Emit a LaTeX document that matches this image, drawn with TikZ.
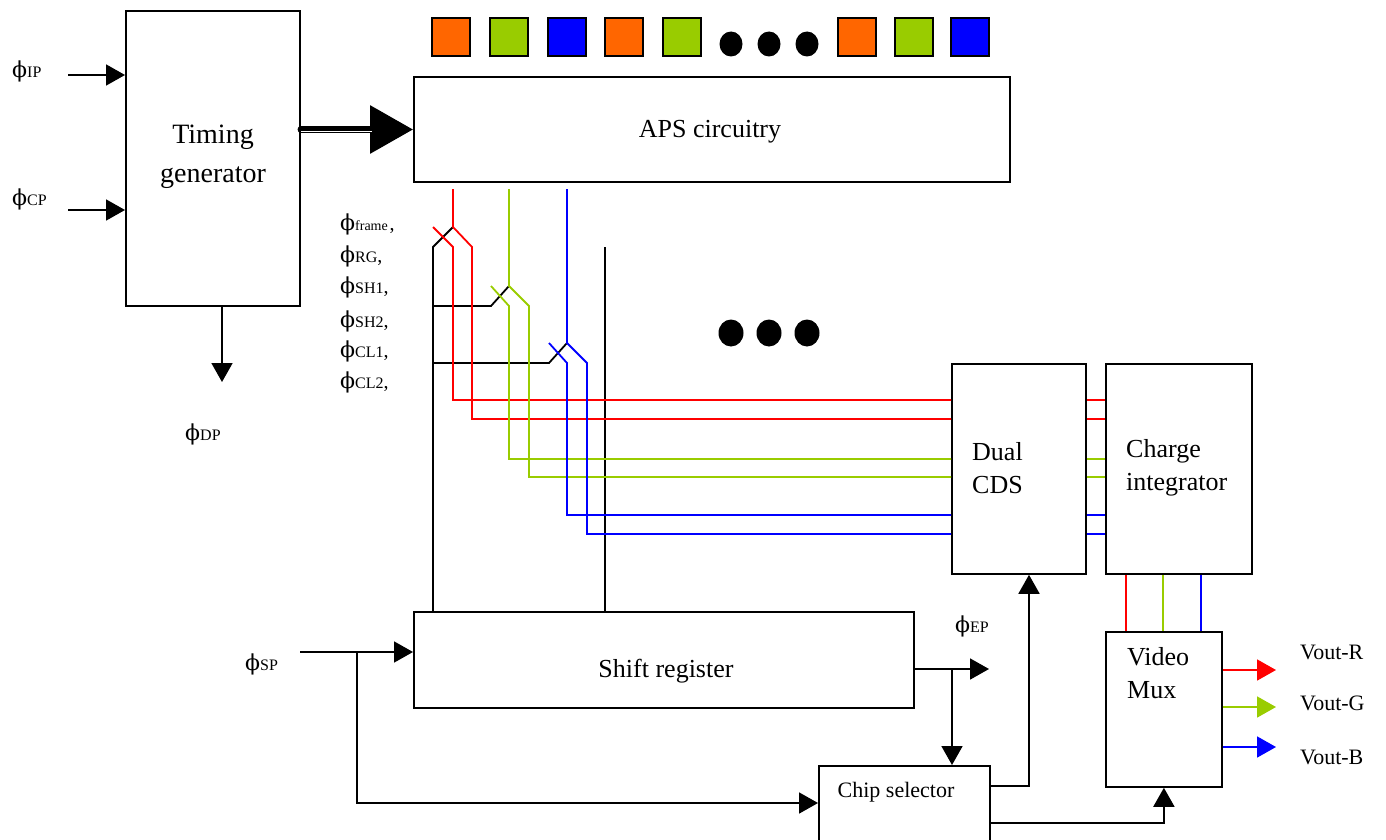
\documentclass[tikz,border=0pt]{standalone}
\usepackage{fontspec}
\setmainfont{Liberation Serif}
\newfontfamily\phfont{DejaVu Serif}
\usetikzlibrary{arrows.meta}
\definecolor{cred}{RGB}{255,0,0}
\definecolor{cgreen}{RGB}{153,204,0}
\definecolor{cblue}{RGB}{0,0,255}
\definecolor{corange}{RGB}{255,102,0}
% phase label: phi with a smaller suffix
\newcommand{\phl}[2][16]{{\phfont\fontsize{22}{22}\selectfont ϕ}{\fontsize{#1}{#1}\selectfont #2}}

\begin{document}
\begin{tikzpicture}[x=1pt,y=-1pt,
  box/.style={draw, line width=1.8pt, inner sep=0pt, anchor=north west},
  wire/.style={line width=1.8pt},
  arr/.style={-{Triangle[length=19pt,width=21pt]}},
  lbl/.style={font=\fontsize{26}{33}\selectfont, inner sep=0pt},
  sml/.style={font=\fontsize{22}{26}\selectfont, inner sep=0pt},
  ph/.style={inner sep=0pt, anchor=base west},
  sq/.style={draw, line width=1.4pt}]
\useasboundingbox (0,0) rectangle (1386,840);

% ---- blocks ----
\node[box, minimum width=174pt, minimum height=295pt] (tg)  at (125,10)  {};
\node[box, minimum width=596pt, minimum height=105pt] (aps) at (413,76)  {};
\node[box, minimum width=134pt, minimum height=210pt] (cds) at (951,363) {};
\node[box, minimum width=146pt, minimum height=210pt] (ci)  at (1105,363) {};
\node[box, minimum width=116pt, minimum height=155pt] (mux) at (1105,631) {};
\node[box, minimum width=500pt, minimum height=96pt]  (sr)  at (413,611) {};
\node[box, minimum width=171pt, minimum height=95pt]  (cs)  at (818,765) {};

% ---- block texts ----
\node[lbl, font=\fontsize{28}{39}\selectfont, align=center] (tgt) at (213,157) {Timing\\generator};
\node[lbl] (apst) at (710,132) {APS circuitry};
\node[lbl] (srt) at (666,671) {Shift register};
\node[lbl, align=left, anchor=west] (cdst) at (972,468) {Dual\\CDS};
\node[lbl, align=left, anchor=west] (cit) at (1126,468) {Charge\\integrator};
\node[lbl, align=left, anchor=west] (muxt) at (1127,673) {Video\\Mux};
\node[sml] (cst) at (896,792) {Chip selector};

% ---- pixel colour row ----
\foreach \x/\c in {432/corange,490/cgreen,548/cblue,605/corange,663/cgreen,838/corange,895/cgreen,951/cblue}
  \filldraw[sq, fill=\c] (\x,18) rectangle ++(38,38);
\foreach \x in {731,769,807} {
  \fill (\x,44) ellipse [x radius=11.5, y radius=12.5];
  \fill (\x,333) ellipse [x radius=12.5, y radius=13.5];
}

% ---- phase labels ----
\node[ph] (lip) at (12,78) {\phl{IP}};
\node[ph] (lcp) at (12,205) {\phl{CP}};
\node[ph] (ldp) at (185,440) {\phl{DP}};
\node[ph] (lsp) at (245,670) {\phl{SP}};
\node[ph] (lep) at (955,632) {\phl{EP}};
\node[ph] (lfr) at (340,230) {\phl[14]{frame}\,{\fontsize{20}{20}\selectfont,}};
\node[ph] (lrg) at (340,262) {\phl{RG}{\fontsize{20}{20}\selectfont,}};
\node[ph] (ls1) at (340,293) {\phl{SH1}{\fontsize{20}{20}\selectfont,}};
\node[ph] (ls2) at (340,327) {\phl{SH2}{\fontsize{20}{20}\selectfont,}};
\node[ph] (lc1) at (340,357) {\phl{CL1}{\fontsize{20}{20}\selectfont,}};
\node[ph] (lc2) at (340,388) {\phl{CL2}{\fontsize{20}{20}\selectfont,}};
\node[sml, anchor=west] (vr) at (1300,652) {Vout-R};
\node[sml, anchor=west] (vg) at (1300,703) {Vout-G};
\node[sml, anchor=west] (vb) at (1300,757) {Vout-B};

% ---- free wire ends ----
\coordinate (ipin) at (68,75);
\coordinate (cpin) at (68,210);
\coordinate (dpout) at (222,382);
\coordinate (spin) at (300,652);
\coordinate (epout) at (989,669);
\coordinate (spbr) at (357,652);
\coordinate (epbr) at (952,669);
\coordinate (rtop) at (453,189);
\coordinate (gtop) at (509,189);
\coordinate (btop) at (567,189);
\coordinate (rout) at (1276,670);
\coordinate (gout) at (1276,707);
\coordinate (bout) at (1276,747);

% ---- timing generator I/O ----
\draw[wire, arr] (ipin) -- (ipin -| tg.west);
\draw[wire, arr] (cpin) -- (cpin -| tg.west);
\draw[wire, arr] (dpout |- tg.south) -- (dpout);
\draw[line width=6.5pt, line cap=round, -{Triangle[length=43pt,width=47pt]}]
  (tg.east |- 0,129.5) -- (aps.west |- 0,129.5);
\draw[white, line width=0.8pt] (301,131.5) -- (372,131.5);

% ---- black control lines from the shift register ----
\draw[wire] (sr.north -| 433,0) -- (433,247) -- (453,227);
\draw[wire] (433,306) -- (491,306) -- (509,286);
\draw[wire] (433,363) -- (549,363) -- (567,343);
\draw[wire] (sr.north -| 605,0) -- (605,247);

% ---- colour channels into the dual CDS ----
\draw[wire, cred] (rtop) -- (453,227) -- (472,247) -- (472,419) -- (cds.west |- 0,419);
\draw[wire, cred] (433,227) -- (453,247) -- (453,400) -- (cds.west |- 0,400);
\draw[wire, cgreen] (gtop) -- (509,286) -- (529,306) -- (529,477) -- (cds.west |- 0,477);
\draw[wire, cgreen] (491,286) -- (509,306) -- (509,459) -- (cds.west |- 0,459);
\draw[wire, cblue] (btop) -- (567,343) -- (587,363) -- (587,534) -- (cds.west |- 0,534);
\draw[wire, cblue] (549,343) -- (567,363) -- (567,515) -- (cds.west |- 0,515);

% ---- CDS to charge integrator ----
\draw[wire, cred]   (cds.east |- 0,400) -- (ci.west |- 0,400);
\draw[wire, cred]   (cds.east |- 0,419) -- (ci.west |- 0,419);
\draw[wire, cgreen] (cds.east |- 0,459) -- (ci.west |- 0,459);
\draw[wire, cgreen] (cds.east |- 0,477) -- (ci.west |- 0,477);
\draw[wire, cblue]  (cds.east |- 0,515) -- (ci.west |- 0,515);
\draw[wire, cblue]  (cds.east |- 0,534) -- (ci.west |- 0,534);

% ---- charge integrator to video mux ----
\draw[wire, cred]   (ci.south -| 1126,0) -- (mux.north -| 1126,0);
\draw[wire, cgreen] (ci.south -| 1163,0) -- (mux.north -| 1163,0);
\draw[wire, cblue]  (ci.south -| 1201,0) -- (mux.north -| 1201,0);

% ---- video outputs ----
\draw[wire, cred,   arr] (mux.east |- rout) -- (rout);
\draw[wire, cgreen, arr] (mux.east |- gout) -- (gout);
\draw[wire, cblue,  arr] (mux.east |- bout) -- (bout);

% ---- shift register and chip selector ----
\draw[wire, arr] (spin) -- (spin -| sr.west);
\draw[wire, arr] (spbr) |- (cs.west |- 0,803);
\draw[wire, arr] (sr.east |- epout) -- (epout);
\draw[wire, arr] (epbr) -- (cs.north -| epbr);
\draw[wire, arr] (cs.east |- 0,786) -| (cds.south -| 1029,0);
\draw[wire, arr] (cs.east |- 0,823) -| (mux.south);
\end{tikzpicture}
\end{document}
